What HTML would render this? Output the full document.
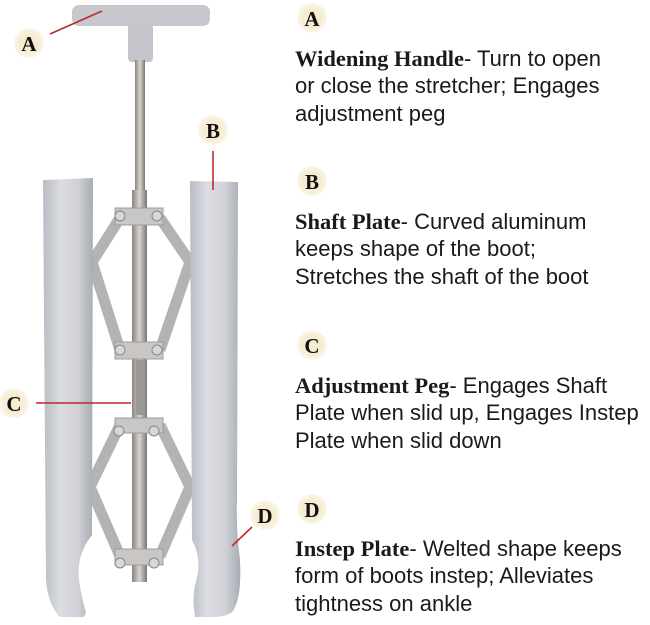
<!DOCTYPE html>
<html><head><meta charset="utf-8"><style>
html,body{margin:0;padding:0;background:#fff;}
svg{display:block;}
.t{font-family:"Liberation Sans",sans-serif;font-size:22px;fill:#1a1a1a;}
.b{font-family:"Liberation Serif",serif;font-weight:bold;font-size:22.5px;fill:#1a1a1a;}
.l{font-family:"Liberation Serif",serif;font-weight:bold;font-size:21px;fill:#111;text-anchor:middle;}
</style></head><body>
<svg width="650" height="625" viewBox="0 0 650 625" xmlns="http://www.w3.org/2000/svg">
<defs>
<linearGradient id="tube" x1="0" x2="1"><stop offset="0" stop-color="#b9bcc4"/><stop offset="0.35" stop-color="#dcdee4"/><stop offset="0.7" stop-color="#cfd1d7"/><stop offset="1" stop-color="#a9acb4"/></linearGradient>
<linearGradient id="rod" x1="0" x2="1"><stop offset="0" stop-color="#8a8480"/><stop offset="0.5" stop-color="#d8d4d0"/><stop offset="1" stop-color="#7c7672"/></linearGradient>
<radialGradient id="cir"><stop offset="0.6" stop-color="#f6ecd2"/><stop offset="1" stop-color="#fbf6ea"/></radialGradient>
</defs>
<!-- handle -->
<rect x="72" y="5" width="138" height="21" rx="7" fill="#c6c8ce"/>
<rect x="128" y="24" width="25" height="38" rx="4" fill="#c3c5cb"/>
<rect x="135" y="60" width="10" height="130" fill="url(#rod)"/>
<!-- linkages -->
<g stroke="#b4b2b2" stroke-width="11" fill="none">
<path d="M120 218 L92 262 L120 350"/><path d="M160 218 L190 262 L160 350"/>
<path d="M120 425 L90 487 L120 556"/><path d="M160 425 L190 487 L160 556"/>
</g>
<!-- center rod -->
<rect x="132" y="190" width="15" height="392" fill="url(#rod)"/>
<rect x="136" y="360" width="8" height="55" fill="#9c9894"/>
<!-- plates -->
<g fill="#c9c7c6" stroke="#a09c9a">
<rect x="115" y="208" width="48" height="17"/><rect x="115" y="342" width="48" height="17"/>
<rect x="115" y="418" width="48" height="15"/><rect x="115" y="549" width="48" height="16"/>
</g>
<g fill="#d8d6d6" stroke="#8a8684">
<circle cx="120" cy="216" r="5"/><circle cx="157" cy="216" r="5"/>
<circle cx="120" cy="350" r="5"/><circle cx="157" cy="350" r="5"/>
<circle cx="119" cy="431" r="5"/><circle cx="154" cy="431" r="5"/>
<circle cx="120" cy="563" r="5"/><circle cx="154" cy="563" r="5"/>
</g>
<!-- left tube -->
<path d="M43 180 L93 178 L92 535 Q76 555 79 580 Q82 600 86 612 L84 617 L60 617 Q48 605 46 580 Z" fill="url(#tube)"/>
<!-- right tube -->
<path d="M190 181 L238 182 L237 500 Q236 530 240 560 Q242 600 232 612 Q226 617 212 617 L195 617 Q192 600 195 585 Q203 560 192 540 Z" fill="url(#tube)"/>
<!-- callout lines -->
<g stroke="#c0282c" stroke-width="1.6">
<line x1="50" y1="34" x2="102" y2="11"/>
<line x1="213" y1="151" x2="213" y2="190"/>
<line x1="36" y1="403" x2="131" y2="403"/>
<line x1="252" y1="527" x2="232" y2="546"/>
</g>
<!-- left labels -->
<circle cx="29" cy="43" r="15" fill="url(#cir)"/><text class="l" x="29" y="51">A</text>
<circle cx="213" cy="130" r="15" fill="url(#cir)"/><text class="l" x="213" y="138">B</text>
<circle cx="14" cy="403" r="15" fill="url(#cir)"/><text class="l" x="14" y="411">C</text>
<circle cx="265" cy="515" r="15" fill="url(#cir)"/><text class="l" x="265" y="523">D</text>
<!-- right text -->
<circle cx="312" cy="18" r="15" fill="url(#cir)"/><text class="l" x="312" y="26">A</text>
<text x="295" y="66"><tspan class="b">Widening Handle</tspan><tspan class="t">- Turn to open</tspan></text>
<text class="t" x="295" y="93">or close the stretcher; Engages</text>
<text class="t" x="295" y="121">adjustment peg</text>

<circle cx="312" cy="181" r="15" fill="url(#cir)"/><text class="l" x="312" y="189">B</text>
<text x="295" y="229"><tspan class="b">Shaft Plate</tspan><tspan class="t">- Curved aluminum</tspan></text>
<text class="t" x="295" y="256">keeps shape of the boot;</text>
<text class="t" x="295" y="284">Stretches the shaft of the boot</text>

<circle cx="312" cy="345" r="15" fill="url(#cir)"/><text class="l" x="312" y="353">C</text>
<text x="295" y="393"><tspan class="b">Adjustment Peg</tspan><tspan class="t">- Engages Shaft</tspan></text>
<text class="t" x="295" y="420">Plate when slid up, Engages Instep</text>
<text class="t" x="295" y="448">Plate when slid down</text>

<circle cx="312" cy="509" r="15" fill="url(#cir)"/><text class="l" x="312" y="517">D</text>
<text x="295" y="556"><tspan class="b">Instep Plate</tspan><tspan class="t">- Welted shape keeps</tspan></text>
<text class="t" x="295" y="583">form of boots instep; Alleviates</text>
<text class="t" x="295" y="611">tightness on ankle</text>
</svg>
</body></html>
